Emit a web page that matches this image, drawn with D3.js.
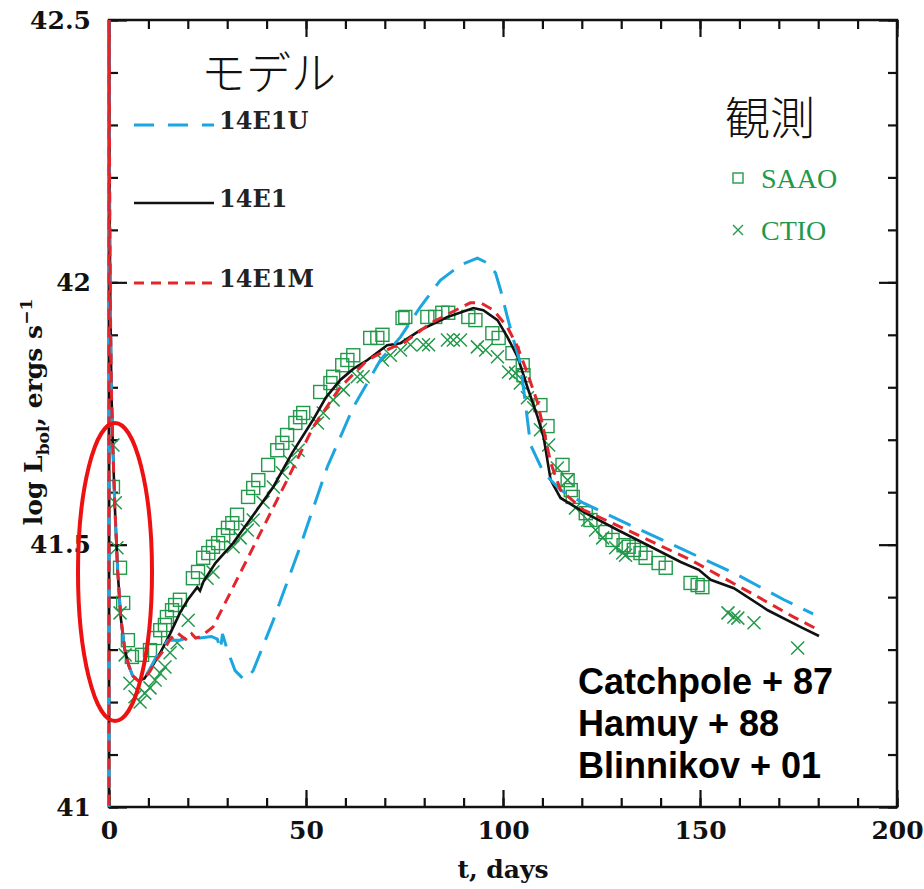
<!DOCTYPE html>
<html><head><meta charset="utf-8">
<script src="https://cdn.jsdelivr.net/npm/d3@7"></script>
<style>body{margin:0;background:#fff}svg{display:block}</style>
</head><body>
<script>
// ---- data ----
const xMajorTicks = [0, 50, 100, 150, 200];
const yMajorTicks = [41, 41.5, 42, 42.5];
const yTickLabels = ["41", "41.5", "42", "42.5"];

const m14E1U = [[0,40.9],[0,42.6],[0.1,42.3],[0.2,42.1],[0.35,41.95],[0.6,41.8],[1.0,41.68],[1.5,41.57],[2.2,41.45],[3.0,41.36],[4.0,41.3],[5.0,41.27],[6.0,41.25],[7.5,41.24],[9,41.245],[10.5,41.265],[13,41.30],[15,41.318],[18,41.318],[21,41.325],[23.1,41.322],[26,41.325],[27.5,41.32],[28.3,41.30],[28.8,41.33],[30,41.30],[32,41.26],[34,41.245],[35,41.245],[36.6,41.26],[41.7,41.356],[48.5,41.496],[55.4,41.648],[62,41.762],[68.9,41.852],[74,41.896],[79,41.953],[84.1,42.004],[89.2,42.033],[93.5,42.046],[96,42.037],[98.1,42.018],[99.4,41.985],[101.1,41.934],[102.7,41.89],[104.4,41.846],[105.5,41.78],[107,41.69],[110.3,41.637],[114.6,41.604],[120.5,41.579],[133.2,41.534],[145.9,41.49],[158.6,41.446],[171.3,41.395],[178.7,41.368]];

const m14E1 = [[0,40.9],[0,42.6],[0.1,42.3],[0.2,42.1],[0.35,41.95],[0.6,41.8],[1.0,41.68],[1.5,41.57],[2.2,41.45],[3.0,41.36],[4.0,41.3],[5.0,41.27],[6.0,41.25],[7.5,41.24],[9,41.245],[10.4,41.261],[13,41.294],[15.5,41.33],[18,41.37],[20,41.395],[22.4,41.419],[23.1,41.412],[24,41.43],[27,41.465],[31.5,41.503],[36.5,41.555],[41.7,41.61],[46.5,41.675],[51.8,41.738],[55,41.78],[58.7,41.814],[62,41.835],[65.6,41.852],[70.6,41.88],[74,41.884],[79,41.909],[85.9,41.934],[92.5,41.951],[95,41.947],[98.6,41.928],[101.1,41.896],[103.7,41.858],[106.2,41.80],[108.8,41.743],[110.3,41.705],[112.1,41.623],[114.6,41.589],[120.5,41.562],[129.1,41.528],[137.5,41.496],[145.1,41.467],[149.7,41.452],[152.7,41.433],[158.6,41.417],[167.2,41.375],[175.6,41.343],[180.2,41.326]];

const m14E1M = [[0,40.9],[0,42.6],[0.1,42.3],[0.2,42.1],[0.35,41.95],[0.6,41.8],[1.0,41.68],[1.5,41.57],[2.2,41.45],[3.0,41.36],[4.0,41.3],[5.0,41.27],[6.0,41.25],[7.5,41.24],[9,41.245],[10.5,41.26],[12,41.28],[14,41.30],[15.5,41.32],[17.3,41.332],[18.5,41.325],[19.8,41.318],[21,41.33],[22,41.322],[23.1,41.324],[26.4,41.343],[31.5,41.419],[38.4,41.522],[45.2,41.623],[51.8,41.724],[58.7,41.80],[65.6,41.852],[68.9,41.865],[72.2,41.877],[74,41.88],[81.6,41.922],[86.7,41.942],[91.7,41.961],[94.3,41.961],[97.6,41.947],[101.1,41.915],[103.7,41.877],[106.2,41.827],[108.8,41.77],[110.3,41.72],[112.1,41.656],[114.6,41.604],[120.5,41.566],[133.2,41.522],[147.6,41.471],[162.9,41.408],[173.8,41.362],[180.2,41.337]];

const saao = [[1.0,41.61],[2.8,41.456],[3.6,41.389],[4.8,41.318],[5.8,41.286],[8.4,41.29],[10.4,41.299],[11.7,41.322],[13.0,41.337],[14.2,41.347],[14.7,41.362],[16.0,41.375],[16.8,41.385],[18.0,41.395],[21.3,41.436],[22.6,41.448],[23.9,41.475],[25.2,41.484],[26.4,41.496],[27.7,41.503],[29.0,41.518],[30.2,41.532],[31.3,41.541],[32.5,41.557],[35.3,41.591],[36.6,41.608],[37.9,41.623],[40.4,41.652],[42.7,41.68],[44.0,41.694],[45.2,41.709],[47.3,41.732],[48.5,41.743],[49.3,41.751],[53.6,41.791],[56.2,41.808],[56.9,41.82],[59.2,41.842],[60.5,41.852],[62.0,41.861],[66.3,41.894],[68.1,41.894],[69.4,41.9],[74.5,41.932],[75.2,41.934],[80.8,41.934],[82.8,41.934],[84.6,41.942],[86.1,41.942],[91.2,41.934],[93.0,41.928],[97.3,41.903],[98.9,41.894],[102.4,41.865],[105.0,41.842],[105.2,41.823],[109.5,41.766],[111.3,41.726],[115.1,41.652],[116.4,41.623],[117.2,41.604],[117.7,41.591],[121.0,41.56],[122.2,41.547],[126.0,41.524],[127.8,41.509],[130.6,41.499],[131.9,41.496],[133.2,41.49],[134.9,41.484],[136.2,41.475],[139.5,41.465],[141.3,41.456],[147.6,41.427],[149.4,41.423],[150.6,41.419]];

const ctio = [[1.0,41.69],[1.6,41.58],[2.0,41.494],[2.8,41.37],[4.1,41.29],[5.3,41.236],[6.6,41.21],[7.9,41.2],[9.1,41.217],[10.4,41.227],[11.7,41.242],[13.0,41.255],[14.2,41.267],[15.5,41.294],[17.3,41.313],[20.1,41.356],[24.9,41.436],[26.4,41.448],[31.5,41.496],[33.3,41.513],[35.1,41.528],[36.6,41.547],[39.1,41.581],[41.7,41.61],[44.0,41.637],[46.0,41.658],[48.0,41.68],[52.9,41.732],[54.4,41.751],[56.9,41.776],[59.5,41.795],[63.0,41.82],[64.5,41.82],[69.4,41.852],[71.4,41.861],[74.0,41.871],[76.5,41.881],[79.8,41.881],[81.1,41.881],[85.9,41.89],[87.4,41.89],[89.2,41.89],[93.5,41.877],[95.6,41.871],[98.6,41.858],[101.4,41.829],[103.2,41.827],[104.4,41.808],[106.2,41.78],[107.8,41.761],[109.5,41.719],[111.6,41.69],[113.8,41.646],[116.4,41.623],[118.4,41.57],[121.5,41.547],[123.5,41.528],[125.3,41.513],[128.6,41.494],[130.4,41.484],[131.1,41.48],[157.1,41.37],[158.6,41.362],[159.6,41.36],[163.7,41.351],[174.8,41.303]];

const modelNames = ["14E1U", "14E1", "14E1M"];
const obsNames = ["SAAO", "CTIO"];
const citations = ["Catchpole + 87", "Hamuy + 88", "Blinnikov + 01"];

// ---- layout ----
const W = 924, H = 889;
const L = 109, R = 897, T = 20, B = 807;
const BLUE = "#1ba6e0", RED = "#e3262b", GREEN = "#22994a";
const serif = "'DejaVu Serif', serif";

const svg = d3.select("body").append("svg").attr("width", W).attr("height", H);
const x = d3.scaleLinear().domain([0, 200]).range([L, R]);
const y = d3.scaleLinear().domain([41, 42.5]).range([B, T]);

svg.append("defs").append("clipPath").attr("id", "clip")
  .append("rect").attr("x", L - 2).attr("y", T).attr("width", R - L + 2).attr("height", B - T);

// axes
function styleAxis(g, fs) {
  g.select(".domain").remove();
  g.selectAll("line").attr("stroke", "#111").attr("stroke-width", 2.2);
  g.selectAll("text").attr("font-family", serif).attr("font-weight", "bold")
    .attr("font-size", fs).attr("fill", "#111");
}
const xMinor = d3.range(0, 201, 10);
const yMinor = d3.range(41, 42.501, 0.1);

svg.append("g").attr("transform", `translate(0,${B})`)
  .call(d3.axisBottom(x).tickValues(xMinor).tickSize(-9).tickFormat(""))
  .call(g => styleAxis(g, 0));
svg.append("g").attr("transform", `translate(0,${B})`)
  .call(d3.axisBottom(x).tickValues(xMajorTicks).tickSize(-17).tickPadding(14).tickFormat(d3.format("d")))
  .call(g => styleAxis(g, 25));
svg.append("g").attr("transform", `translate(0,${T})`)
  .call(d3.axisTop(x).tickValues(xMinor).tickSize(-9).tickFormat(""))
  .call(g => styleAxis(g, 0));
svg.append("g").attr("transform", `translate(0,${T})`)
  .call(d3.axisTop(x).tickValues(xMajorTicks).tickSize(-17).tickFormat(""))
  .call(g => styleAxis(g, 0));

svg.append("g").attr("transform", `translate(${L},0)`)
  .call(d3.axisLeft(y).tickValues(yMinor).tickSize(-9).tickFormat(""))
  .call(g => styleAxis(g, 0));
svg.append("g").attr("transform", `translate(${L},0)`)
  .call(d3.axisLeft(y).tickValues(yMajorTicks).tickSize(-18).tickPadding(18)
    .tickFormat((d, i) => yTickLabels[i]))
  .call(g => styleAxis(g, 25));
svg.append("g").attr("transform", `translate(${R},0)`)
  .call(d3.axisRight(y).tickValues(yMinor).tickSize(-9).tickFormat(""))
  .call(g => styleAxis(g, 0));
svg.append("g").attr("transform", `translate(${R},0)`)
  .call(d3.axisRight(y).tickValues(yMajorTicks).tickSize(-18).tickFormat(""))
  .call(g => styleAxis(g, 0));

// frame
svg.append("rect").attr("x", L).attr("y", T).attr("width", R - L).attr("height", B - T)
  .attr("fill", "none").attr("stroke", "#111").attr("stroke-width", 2.5);

// axis titles
svg.append("text").attr("x", (L + R) / 2).attr("y", 878).attr("text-anchor", "middle")
  .attr("font-family", serif).attr("font-weight", "bold").attr("font-size", 25).attr("fill", "#111")
  .text("t, days");
const yl = svg.append("text").attr("transform", "translate(42,412) rotate(-90)")
  .attr("text-anchor", "middle").attr("font-family", serif).attr("font-weight", "bold")
  .attr("font-size", 25).attr("fill", "#111");
yl.append("tspan").text("log L");
yl.append("tspan").attr("font-size", 17).attr("dy", 7).text("bol");
yl.append("tspan").attr("dy", -7).text(", ergs s");
yl.append("tspan").attr("font-size", 17).attr("dy", -10).text("−1");

// observations
const plot = svg.append("g").attr("clip-path", "url(#clip)");
plot.selectAll(".sq").data(saao).enter().append("rect")
  .attr("x", d => x(d[0]) - 6.5).attr("y", d => y(d[1]) - 6.5).attr("width", 13).attr("height", 13)
  .attr("fill", "none").attr("stroke", GREEN).attr("stroke-width", 1.4);
plot.selectAll(".cx").data(ctio).enter().append("path")
  .attr("d", d => { const cx = x(d[0]), cy = y(d[1]), s = 6.5; return `M${cx-s},${cy-s}L${cx+s},${cy+s}M${cx-s},${cy+s}L${cx+s},${cy-s}`; })
  .attr("stroke", GREEN).attr("stroke-width", 1.5).attr("fill", "none");

// models
const line = d3.line().x(d => x(d[0])).y(d => y(d[1])).curve(d3.curveLinear);
plot.append("path").datum(m14E1).attr("d", line).attr("fill", "none")
  .attr("stroke", "#111").attr("stroke-width", 2.6);
plot.append("path").datum(m14E1U).attr("d", line).attr("fill", "none")
  .attr("stroke", BLUE).attr("stroke-width", 3).attr("stroke-dasharray", "24,12");
plot.append("path").datum(m14E1M).attr("d", line).attr("fill", "none")
  .attr("stroke", RED).attr("stroke-width", 3).attr("stroke-dasharray", "11,7");

// model legend
svg.append("text").attr("x", 201).attr("y", 90).attr("font-family", "'Noto Sans CJK JP'")
  .attr("font-weight", 300).attr("font-size", 45).attr("fill", "#111").text("モデル");
const legY = [125, 203, 283];
const legStyles = [
  { stroke: BLUE, dash: "20,14", w: 3 },
  { stroke: "#111", dash: null, w: 2.6 },
  { stroke: RED, dash: "10,7", w: 3 }
];
modelNames.forEach((n, i) => {
  svg.append("line").attr("x1", 134).attr("x2", 214).attr("y1", legY[i]).attr("y2", legY[i])
    .attr("stroke", legStyles[i].stroke).attr("stroke-width", legStyles[i].w)
    .attr("stroke-dasharray", legStyles[i].dash);
  svg.append("text").attr("x", 219).attr("y", legY[i] + 4).attr("font-family", serif)
    .attr("font-weight", "bold").attr("font-size", 24).attr("fill", "#222").text(n);
});

// observation legend
svg.append("text").attr("x", 725).attr("y", 135).attr("font-family", "'Noto Sans CJK JP'")
  .attr("font-weight", 300).attr("font-size", 45).attr("fill", "#111").text("観測");
const obsY = [178, 230];
svg.append("rect").attr("x", 733).attr("y", obsY[0] - 5).attr("width", 10).attr("height", 10)
  .attr("fill", "none").attr("stroke", GREEN).attr("stroke-width", 1.4);
svg.append("path").attr("d", `M733,${obsY[1]-5}L743,${obsY[1]+5}M733,${obsY[1]+5}L743,${obsY[1]-5}`)
  .attr("stroke", GREEN).attr("stroke-width", 1.4);
obsNames.forEach((n, i) => {
  svg.append("text").attr("x", 761).attr("y", obsY[i] + 10).attr("font-family", "'Liberation Serif', serif")
    .attr("font-size", 28).attr("fill", GREEN).text(n);
});

// citations
citations.forEach((c, i) => {
  svg.append("text").attr("x", 578).attr("y", 694 + i * 42).attr("font-family", "'Liberation Sans', Arial, sans-serif")
    .attr("font-weight", "bold").attr("font-size", 36).attr("fill", "#000").text(c);
});

// highlight ellipse
svg.append("ellipse").attr("cx", 115).attr("cy", 572).attr("rx", 37).attr("ry", 149)
  .attr("fill", "none").attr("stroke", "#ee1111").attr("stroke-width", 4);
</script>
</body></html>
